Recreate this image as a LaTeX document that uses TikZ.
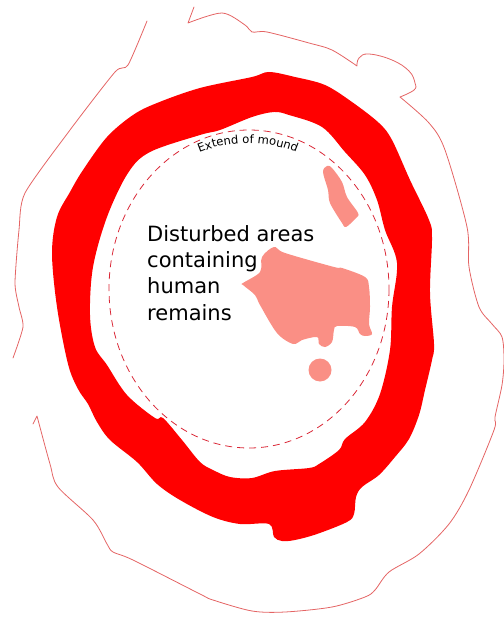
\documentclass[tikz,border=0pt]{standalone}
\usepackage{fontspec}
\setmainfont{DejaVu Sans}
\usetikzlibrary{decorations.text}
\definecolor{ringred}{RGB}{255,0,0}
\definecolor{areapink}{RGB}{250,143,133}
\definecolor{edgered}{RGB}{228,100,100}
\definecolor{mounddash}{RGB}{218,40,55}
\begin{document}
\begin{tikzpicture}[
  x=1pt, y=-1pt,
  edgeline/.style={draw=edgered, line width=0.8pt, line join=round, line cap=round},
  area/.style={fill=areapink, draw=none},
  blob/.style={smooth cycle, tension=0.55}
]
\useasboundingbox (0,0) rectangle (503,617);
% ring of the ditch
\fill[ringred, even odd rule]
  plot[blob] coordinates {(269,72) (295,77) (325,85) (352,102) (379,123) (392,140) (410,180) (429,220) (432,238) (430,293) (434,344) (432,360) (425,390) (419,415) (409,439) (395,457) (379,475) (362,487) (356,497) (354,514) (347,522) (317,534) (295,540) (282,541) (274,537) (269,524) (240,524) (213,517) (180,500) (157,484) (137,462) (110,440) (97,422) (88,404) (78,389) (68,364) (57,307) (52,253) (57,217) (70,192) (83,170) (107,137) (133,115) (157,103) (200,88) (252,77)}
  plot[blob] coordinates {(274,112) (289,115) (322,127) (345,152) (365,175) (377,200) (385,230) (397,263) (392,307) (390,350) (380,394) (365,422) (345,439) (339,450) (319,464) (309,468) (275,471) (252,478) (230,477) (213,470) (200,462) (182,440) (163,418) (155,418) (127,395) (107,365) (95,347) (90,315) (93,267) (107,217) (128,173) (150,152) (200,135) (220,130) (252,117)};
% outer edge, three pieces
\draw[edgeline] plot[smooth, tension=0.4] coordinates {(147,21) (128,65) (115,72) (70,130) (25,193) (19,230) (15,283) (19,307) (23,327) (13,358)};
\draw[edgeline] (194,7) -- (188,23) plot[smooth, tension=0.5] coordinates {(188,23) (222,13) (245,25) (252,32) (267,32) (309,43) (332,50) (357,66)} plot[smooth, tension=0.7] coordinates {(357,66) (359,58) (369,54) (392,60) (409,71) (415,83) (414,90) (400,97)} plot[smooth, tension=0.5] coordinates {(400,97) (429,123) (445,150) (467,227) (469,267) (479,307) (492,324) (502,337) (504,360) (502,385) (495,417) (494,430) (469,490) (449,524) (419,554) (389,572) (375,590) (365,597) (332,607) (285,612) (252,611) (213,600) (200,594) (133,560) (113,552) (107,544) (93,520) (58,487) (50,464) (37,416)} -- (33,424);
% disturbed areas
\fill[area] plot[blob] coordinates {(327,166) (332,168) (342,182) (347,197) (358,213) (356,218) (346,227) (342,223) (330,203) (328,190) (323,172)};
\fill[area] plot[blob] coordinates {(274,247) (285,253) (334,267) (342,268) (365,277) (369,287) (370,307) (369,324) (372,334) (365,336) (360,334) (355,327) (337,326) (334,330) (332,342) (325,347) (319,344) (317,337) (302,340) (293,344) (277,333) (260,305) (255,295) (243,285) (243,283) (260,272) (262,257)};
\fill[area] (320,370) circle (11.5);
% extent of the mound
\draw[mounddash, line width=0.8pt, dash pattern=on 7pt off 5pt] (249,289) ellipse (140 and 159);
\path[decorate, decoration={text along path, text align=center, text={|\fontsize{11.6}{13}\selectfont|Extend of mound}}]
  (192,156) .. controls (226,139) and (270,139) .. (304,156);
\node[anchor=north west, align=left, inner sep=0pt, font=\fontsize{21}{26.4}\selectfont] (label) at (147,225)
  {Disturbed areas\\containing\\human\\remains};
\end{tikzpicture}
\end{document}
